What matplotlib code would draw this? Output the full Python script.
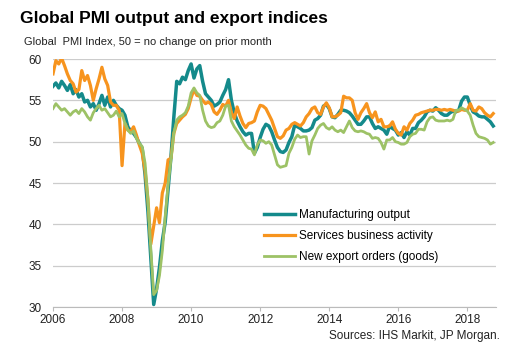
import numpy as np
import matplotlib
matplotlib.use("Agg")
import matplotlib.pyplot as plt

plt.rcParams['font.family'] = ['Liberation Sans', 'DejaVu Sans']

# monthly readings, Jan 2006 .. Oct 2018
start_year = 2006
manufacturing_output = [
    56.7, 57.1, 56.5, 57.3, 56.8, 56.2, 56.9, 55.8, 56.3, 55.4, 55.8, 54.8,  # 2006
    55.0, 54.2, 54.6, 53.8, 54.6, 55.6, 54.4, 55.4, 54.2, 55.0, 54.4, 54.0,  # 2007
    53.8, 53.2, 51.8, 51.3, 51.0, 50.5, 49.8, 49.2, 46.0, 41.5, 36.0, 30.3,  # 2008
    32.2, 34.8, 38.0, 40.3, 44.2, 48.2, 53.0, 57.3, 57.0, 57.8, 57.5, 58.6,  # 2009
    59.4, 57.7, 58.8, 59.2, 57.3, 55.8, 55.4, 55.0, 54.3, 54.5, 54.8, 55.6,  # 2010
    56.3, 57.5, 55.0, 53.5, 52.5, 51.8, 51.2, 50.8, 51.0, 51.0, 48.6, 49.3,  # 2011
    50.5, 51.5, 52.1, 51.9, 51.2, 50.2, 49.3, 48.8, 48.7, 49.0, 49.9, 50.6,  # 2012
    52.0, 51.8, 51.6, 51.3, 51.3, 51.4, 51.7, 52.6, 52.8, 53.2, 54.3, 54.5,  # 2013
    54.0, 53.0, 52.9, 53.3, 53.8, 53.8, 53.7, 53.5, 53.1, 52.6, 52.1, 52.1,  # 2014
    52.5, 53.0, 53.0, 52.2, 51.6, 51.8, 51.6, 51.4, 50.9, 51.9, 51.6, 51.4,  # 2015
    50.8, 51.1, 50.5, 51.2, 50.8, 51.6, 51.6, 52.3, 52.6, 53.0, 53.6, 53.8,  # 2016
    53.7, 54.1, 53.8, 53.4, 53.2, 53.2, 53.5, 53.7, 53.6, 53.8, 54.9, 55.4,  # 2017
    55.4, 54.4, 53.6, 53.4, 53.1, 53.0, 53.0, 52.7, 52.4, 51.9,              # 2018
]
services_activity = [
    58.2, 59.8, 59.4, 60.1, 59.2, 58.2, 57.4, 57.0, 56.0, 56.3, 58.6, 57.4,
    58.0, 56.8, 55.0, 56.4, 57.6, 59.0, 57.6, 56.8, 54.8, 54.4, 54.4, 53.8,
    47.1, 52.2, 51.4, 51.2, 51.8, 50.8, 49.6, 48.6, 46.5, 43.0, 37.6, 39.8,
    42.0, 40.2, 43.8, 45.0, 47.8, 48.0, 51.0, 52.2, 52.6, 53.0, 53.3, 54.0,
    55.3, 56.3, 55.6, 55.5, 55.0, 54.6, 54.8, 54.5, 53.6, 53.3, 53.8, 54.5,
    54.3, 55.0, 53.5, 52.8, 54.2, 53.1, 52.2, 51.7, 52.2, 52.3, 52.5, 53.6,
    54.4, 54.3, 54.0, 53.3, 52.6, 51.6, 50.6, 50.4, 50.7, 51.4, 51.6, 52.1,
    52.3, 52.1, 51.9, 52.3, 53.0, 53.4, 54.0, 54.2, 53.5, 53.3, 54.2, 54.7,
    54.1, 53.0, 53.0, 53.2, 53.5, 55.5, 55.3, 55.3, 55.0, 53.5, 52.7, 53.5,
    54.0, 54.6, 53.5, 52.9, 53.6, 52.4, 52.7, 51.8, 51.8, 51.9, 52.4, 51.5,
    51.0, 50.8, 51.8, 51.4, 52.2, 52.6, 53.2, 53.3, 53.5, 53.6, 53.7, 53.8,
    53.8, 53.9, 53.9, 53.8, 53.9, 53.8, 53.9, 53.8, 53.7, 53.7, 53.9, 53.8,
    53.8, 54.6, 53.8, 53.7, 54.2, 54.0, 53.5, 53.2, 53.0, 53.4,
]
new_export_orders = [
    54.0, 54.6, 54.2, 53.8, 54.0, 53.6, 53.2, 53.6, 53.8, 53.4, 54.0, 53.6,
    53.0, 52.6, 53.5, 54.0, 54.4, 53.8, 54.0, 53.5, 53.0, 53.2, 53.7, 53.0,
    53.4, 52.2, 51.4, 51.0, 51.3, 50.4, 49.8, 49.4, 47.4, 43.0, 37.0, 31.5,
    32.0, 33.8, 36.8, 41.0, 44.8, 47.8, 51.0, 52.6, 53.0, 53.2, 53.5, 54.3,
    55.9, 56.5, 55.9, 55.6, 53.8, 52.5, 51.9, 51.7, 51.8, 52.3, 52.5, 53.2,
    54.3, 54.4, 52.5, 51.8, 51.3, 50.8, 50.2, 49.6, 49.2, 49.1, 48.4, 49.6,
    50.2, 50.1, 49.8, 50.0, 49.6, 48.4, 47.2, 46.9, 47.0, 47.1, 48.6, 49.3,
    50.3, 50.8, 50.5, 50.6, 50.6, 48.5, 50.1, 50.8, 51.6, 52.0, 52.2, 51.7,
    51.5, 51.8, 51.4, 51.2, 51.4, 51.1, 51.8, 52.5, 51.7, 51.3, 51.2, 51.3,
    51.2, 51.0, 50.9, 50.4, 50.5, 50.4, 49.9, 49.1, 50.2, 50.2, 50.5, 50.0,
    49.9, 49.7, 49.7, 49.9, 50.6, 50.9, 51.0, 51.5, 51.5, 51.4, 52.4, 52.9,
    53.0, 52.6, 52.5, 52.5, 52.5, 52.6, 52.5, 52.7, 53.8, 53.8, 54.1, 53.9,
    53.7, 53.2, 52.0, 51.0, 50.6, 50.5, 50.4, 50.2, 49.7, 49.9,
]
series_labels = ['Manufacturing output', 'Services business activity',
                 'New export orders (goods)']
year_ticks = [2006, 2008, 2010, 2012, 2014, 2016, 2018]
value_ticks = [30, 35, 40, 45, 50, 55, 60]

colors = ['#148a8b', '#f7941e', '#9dc266']
widths = [2.5, 2.3, 2.0]

n = len(manufacturing_output)
t = start_year + np.arange(n) / 12.0

fig = plt.figure(figsize=(5.28, 3.54), dpi=100)
ax = fig.add_axes([53 / 528, 47 / 354, 443 / 528, 248 / 354])

for vals, lab, c, w in zip([manufacturing_output, services_activity, new_export_orders],
                           series_labels, colors, widths):
    ax.plot(t, vals, color=c, lw=w, label=lab, solid_joinstyle='round')

ax.set_xlim(start_year, t[-1] + 0.08)
ax.set_ylim(30, 60)
ax.set_xticks(year_ticks)
ax.set_yticks(value_ticks)
ax.grid(axis='y', color='#cccccc', lw=0.9)
ax.set_axisbelow(True)
for s in ['top', 'right', 'left']:
    ax.spines[s].set_visible(False)
ax.spines['bottom'].set_color('#bbbbbb')
ax.tick_params(axis='y', length=0, pad=8, labelsize=8.5, labelcolor='#222222')
ax.tick_params(axis='x', length=3, color='#bbbbbb', pad=2, labelsize=8.5,
               labelcolor='#222222')

ax.legend(loc='center left', bbox_to_anchor=(0.477, 0.286), frameon=False,
          fontsize=8.5, handlelength=2.6, handletextpad=0.35, labelspacing=0.75,
          borderpad=0, borderaxespad=0)

fig.text(20.5 / 528, 1 - 23.3 / 354, 'Global PMI output and export indices',
         fontsize=12.5, fontweight='bold', va='baseline', ha='left')
fig.text(24 / 528, 1 - 45 / 354, 'Global  PMI Index, 50 = no change on prior month',
         fontsize=8, va='baseline', ha='left', color='#222222')
fig.text(500 / 528, 1 - 339 / 354, 'Sources: IHS Markit, JP Morgan.',
         fontsize=8.5, va='baseline', ha='right', color='#222222')

fig.savefig('out.png', dpi=100)
